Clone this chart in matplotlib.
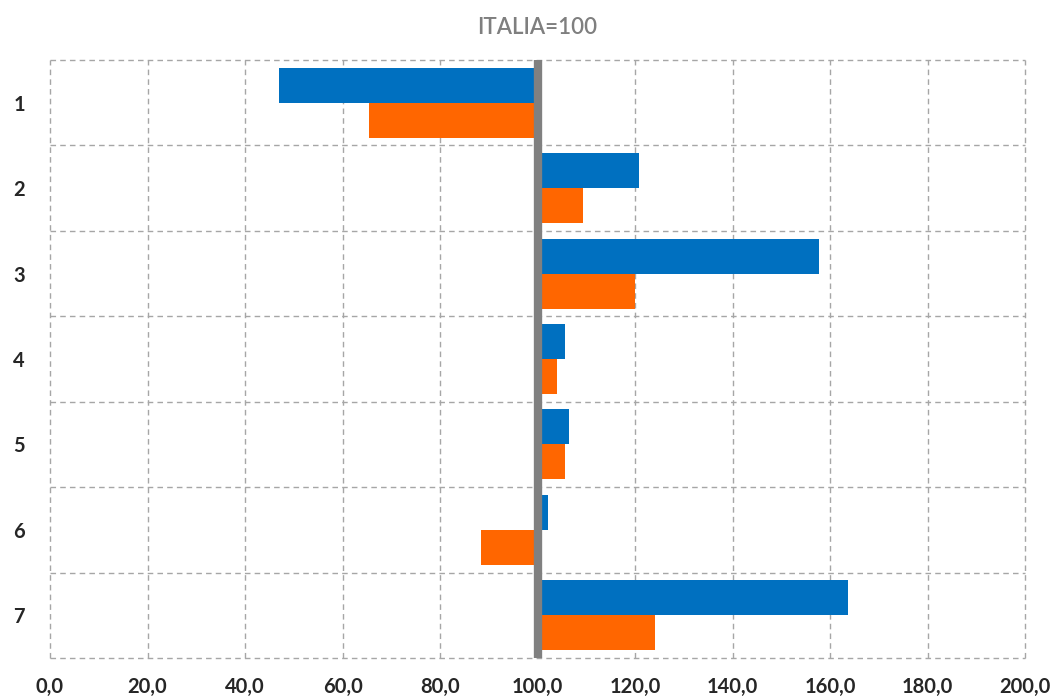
import matplotlib
matplotlib.use("Agg")
import matplotlib.pyplot as plt
import numpy as np

categories = ["1", "2", "3", "4", "5", "6", "7"]
serie_blu = [47.0, 120.8, 157.7, 105.6, 106.5, 102.1, 163.7]
serie_arancio = [65.4, 109.3, 120.0, 104.0, 105.6, 88.4, 124.1]
x_ticks = [0, 20, 40, 60, 80, 100, 120, 140, 160, 180, 200]
base = 100.0
title = "ITALIA=100"

plt.rcParams['font.family'] = ['Lato', 'DejaVu Sans']

fig = plt.figure(figsize=(10.53, 6.97), dpi=100)
ax = fig.add_axes([50/1053, 1-658/697, 975/1053, 598/697])

y = np.arange(len(categories))
h = 0.41
ax.barh(y - h/2, np.array(serie_blu) - base, left=base, height=h, color="#0070C0", zorder=2)
ax.barh(y + h/2, np.array(serie_arancio) - base, left=base, height=h, color="#FF6600", zorder=2)
ax.axvline(base, color="#808080", lw=6, zorder=3)

ax.set_xlim(0, 200)
ax.set_ylim(len(categories) - 0.5, -0.5)
ax.set_xticks(x_ticks)
ax.set_xticklabels([f"{v:.1f}".replace(".", ",") for v in x_ticks])
ax.set_yticks(y)
ax.set_yticklabels(categories)
ax.grid(False)
dash = (0, (4, 3))
for yy in np.arange(-0.5, len(categories), 1):
    ax.axhline(yy, color="#A6A6A6", ls=dash, lw=1, zorder=1, clip_on=False)
for xx in x_ticks:
    ax.axvline(xx, color="#A6A6A6", ls=dash, lw=1, zorder=1, clip_on=False)
for s in ax.spines.values():
    s.set_visible(False)
ax.tick_params(which="both", length=0)
ax.tick_params(axis="x", pad=14, labelsize=14.5, colors="#262626")
ax.tick_params(axis="y", pad=18, labelsize=14.5, colors="#262626")
for t in ax.get_xticklabels() + ax.get_yticklabels():
    t.set_fontweight("bold")

fig.text((50+1025)/2/1053, 1-28/697, title, ha="center", va="center", fontsize=16,
         fontweight="semibold", color="#7F7F7F")

fig.savefig("out.png", dpi=100)
